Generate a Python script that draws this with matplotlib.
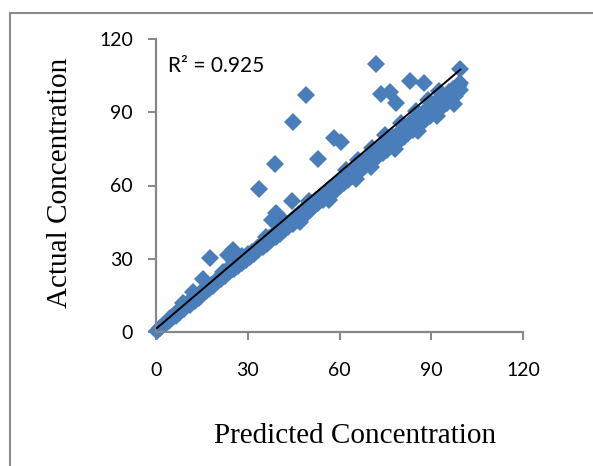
import matplotlib
matplotlib.use("Agg")
import matplotlib.pyplot as plt
from matplotlib.patches import Rectangle

# predicted vs actual concentration
predicted = [
    0.3, 1.2, 2.0, 2.8, 3.5, 4.1, 4.6, 5.3, 5.9, 6.4, 7.0, 7.6, 8.1, 8.8,
    9.3, 9.9, 10.4, 11.0, 11.6, 12.1, 12.7, 13.3, 13.9, 14.5, 15.3, 15.1, 15.8, 16.4,
    17.7, 17.2, 18.0, 18.6, 19.3, 20.0, 20.7, 21.3, 22.0, 22.6, 23.3, 23.6,
    24.0, 24.7, 25.1, 25.4, 26.1, 26.8, 27.5, 28.1, 28.8, 29.4, 30.1, 30.8,
    31.5, 32.2, 32.9, 33.7, 33.5, 34.2, 34.9, 35.6, 36.3, 37.0, 37.8, 37.7, 38.4,
    38.9, 39.1, 39.3, 39.8, 40.5, 41.2, 41.9, 42.6, 43.3, 44.0, 44.4, 44.9, 44.7,
    45.4, 46.1, 46.8, 47.5, 48.2, 49.0, 48.9, 49.6, 50.3, 51.0, 51.7, 52.4, 53.1,
    53.1, 53.8, 54.5, 55.2, 55.9, 56.6, 57.3, 58.0, 58.3, 58.7, 59.4, 60.6, 60.1,
    60.8, 61.5, 62.2, 62.9, 63.6, 64.3, 65.0, 65.7, 66.4, 67.1, 67.8, 68.5,
    69.2, 69.9, 70.6, 71.3, 72.0, 72.0, 72.7, 73.4, 73.6, 74.1, 74.8, 75.5,
    76.2, 76.5, 76.9, 77.6, 78.3, 78.5, 79.0, 79.7, 80.4, 81.1, 81.8, 82.5,
    83.1, 83.2, 83.9, 84.6, 85.3, 86.0, 86.7, 87.4, 87.7, 88.1, 88.8, 89.5,
    90.2, 90.9, 91.6, 92.3, 93.0, 93.7, 94.4, 95.1, 95.5,
    95.8, 96.5, 97.2, 97.9, 98.6, 99.4, 99.4, 99.5, 99.0,
    10.0, 22.0, 28.0, 36.0, 42.0, 50.0, 62.0, 66.0, 70.5, 75.0, 80.0, 85.0,
    89.0, 92.5, 47.0, 56.5, 65.5, 70.2, 78.0, 85.8, 92.0, 97.5,
]
actual = [
    0.5, 1.5, 2.4, 3.1, 4.2, 4.6, 5.8, 5.6, 6.8, 6.6, 8.1, 7.7, 9.4, 12.0,
    9.6, 10.8, 11.9, 11.2, 12.8, 16.2, 12.9, 14.6, 14.1, 15.8, 21.6, 15.4, 16.9, 16.6,
    30.2, 17.8, 19.1, 18.9, 20.4, 20.6, 22.3, 21.6, 23.5, 22.9, 25.2, 31.5,
    24.4, 26.0, 33.6, 25.8, 27.6, 27.0, 29.3, 28.4, 30.1, 29.6, 31.8, 30.9,
    32.7, 32.0, 34.5, 58.4, 33.6, 35.8, 34.7, 37.3, 36.2, 38.6, 45.9, 37.6, 39.9,
    68.8, 38.9, 48.9, 41.4, 40.3, 42.7, 41.8, 44.2, 43.1, 45.6, 53.6, 85.9, 44.4,
    47.0, 45.8, 48.5, 47.2, 49.8, 97.1, 48.5, 51.3, 50.0, 52.7, 51.4, 54.0, 70.7,
    52.8, 55.5, 54.2, 57.0, 55.6, 58.6, 57.0, 59.8, 79.3, 58.3, 61.3, 77.9, 59.8,
    62.5, 61.0, 64.0, 62.3, 65.4, 63.7, 66.8, 65.2, 68.3, 66.5, 69.7, 67.9,
    71.2, 69.3, 72.5, 70.6, 109.7, 74.0, 71.9, 75.4, 97.5, 73.3, 76.9, 74.6,
    78.3, 98.3, 76.0, 79.8, 77.3, 93.8, 81.2, 78.7, 82.6, 80.0, 84.1, 81.4,
    102.8, 85.5, 82.8, 87.0, 84.2, 88.4, 85.5, 89.8, 102.0, 86.9, 91.3, 88.3,
    92.7, 89.7, 94.1, 91.0, 95.5, 92.4, 96.2, 93.8, 96.2,
    98.2, 95.3, 99.6, 96.7, 100.5, 107.7, 102.0, 99.0, 101.0,
    11.5, 24.5, 31.0, 39.0, 45.5, 53.5, 66.5, 70.5, 75.5, 80.5, 85.5, 90.5,
    95.0, 98.5, 45.0, 54.0, 62.8, 67.5, 75.0, 82.5, 88.5, 93.5,
]

# linear trendline as shown on the chart
trend_slope = 1.067
trend_intercept = 1.3
r2_label = "R² = 0.925"

ticks = [0, 30, 60, 90, 120]

W, H = 593, 466
fig = plt.figure(figsize=(W / 100, H / 100), dpi=100)
ax = fig.add_axes([156 / W, 1 - 332 / H, (523 - 156) / W, (332 - 39) / H])

ax.plot(predicted, actual, linestyle="none", marker="D", markersize=9.5,
        color="#4A7EBB", markeredgewidth=0, clip_on=False, zorder=2)

x0, x1 = min(predicted), max(predicted)
ax.plot([x0, x1], [trend_slope * x0 + trend_intercept, trend_slope * x1 + trend_intercept],
        color="black", lw=1.4, zorder=3)

ax.set_xlim(0, 120)
ax.set_ylim(0, 120)
ax.set_xticks(ticks)
ax.set_yticks(ticks)

axis_grey = "#878787"
for side in ["top", "right"]:
    ax.spines[side].set_visible(False)
for side in ["left", "bottom"]:
    ax.spines[side].set_color(axis_grey)
    ax.spines[side].set_linewidth(1.6)

ax.tick_params(axis="both", direction="out", length=5.5, width=1.4, color=axis_grey)
ax.tick_params(axis="y", pad=11)
ax.tick_params(axis="x", pad=16)
for lbl in ax.get_xticklabels() + ax.get_yticklabels():
    lbl.set_fontfamily("Lato")
    lbl.set_fontsize(14)

ax.text(3.8, 109, r2_label, fontfamily="Lato", fontsize=15, va="center", ha="left")

fig.text(355 / W, 1 - 436 / H, "Predicted Concentration", family="Liberation Serif",
         fontsize=21, ha="center", va="center")
fig.text(60 / W, 1 - 183 / H, "Actual Concentration", family="Liberation Serif",
         fontsize=21, ha="center", va="center", rotation=90)

# chart area frame (cut off on the right and bottom)
fig.patches.append(Rectangle((9.5 / W, -0.5), 2, 0.5 + (H - 13) / H,
                             transform=fig.transFigure, fill=False,
                             edgecolor="#8C8C8C", lw=1.5))

fig.savefig("out.png", dpi=100)
